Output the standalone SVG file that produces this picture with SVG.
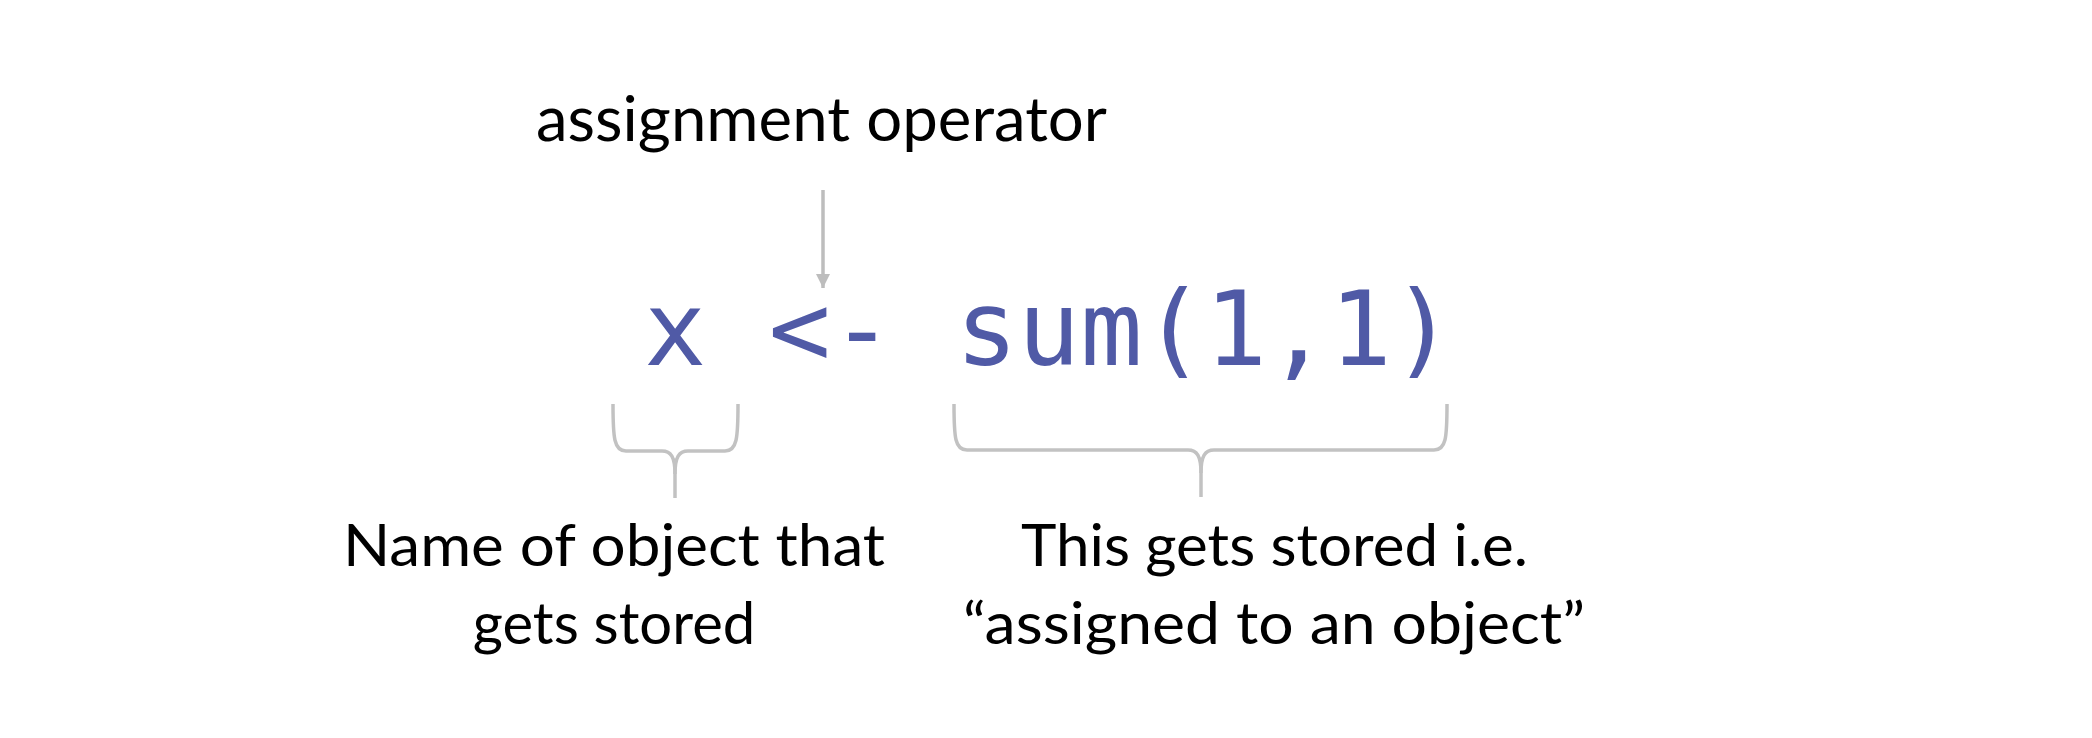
<svg xmlns="http://www.w3.org/2000/svg" width="2092" height="738" viewBox="0 0 2092 738">
  <style>
    .lbl { font-family: Lato, "Liberation Sans", sans-serif; fill: #000000; }
    .code { font-family: "DejaVu Sans Mono", "Liberation Mono", monospace; fill: #505AA6; font-size: 103.5px; }
    .brace { fill: none; stroke: #C2C2C2; stroke-width: 3.5; stroke-linecap: butt; stroke-linejoin: round; }
    .conn { fill: none; stroke: #BDBDBD; stroke-width: 3.5; }
  </style>
  <defs>
    <marker id="ah" markerUnits="userSpaceOnUse" markerWidth="16" markerHeight="14" refX="14" refY="7" orient="auto">
      <path d="M0,0 L14,7 L0,14 Z" fill="#BDBDBD"/>
    </marker>
  </defs>
  <rect width="2092" height="738" fill="#FFFFFF"/>

  <g id="label-operator">
    <text class="lbl" x="536" y="141" font-size="62" textLength="571" lengthAdjust="spacingAndGlyphs">assignment operator</text>
  </g>

  <g id="code">
    <text class="code" x="644" y="365" xml:space="preserve">x &lt;- sum(1,1)</text>
  </g>

  <g id="brace-name">
    <path class="brace" d="M613,404 C613,438 614,451 626,451 L662,451 C671,451 675,457 675,474 L675,498"/>
    <path class="brace" d="M738,404 C738,438 737,451 725,451 L688,451 C679,451 675,457 675,474"/>
  </g>

  <g id="brace-value">
    <path class="brace" d="M954,404 C954,438 955,450 967,450 L1188,450 C1197,450 1201,456 1201,473 L1201,497"/>
    <path class="brace" d="M1447,404 C1447,438 1446,450 1434,450 L1214,450 C1205,450 1201,456 1201,473"/>
  </g>

  <g id="label-name">
    <text class="lbl" x="343" y="566" font-size="58" textLength="542" lengthAdjust="spacingAndGlyphs">Name of object that</text>
    <text class="lbl" x="614" y="644" font-size="58" text-anchor="middle">gets stored</text>
  </g>

  <g id="label-value">
    <text class="lbl" x="1021" y="566" font-size="58" textLength="507" lengthAdjust="spacingAndGlyphs">This gets stored i.e.</text>
    <text class="lbl" x="963" y="644" font-size="58" textLength="622" lengthAdjust="spacingAndGlyphs">“assigned to an object”</text>
  </g>

  <g id="connectors">
    <line class="conn" x1="823" y1="190" x2="823" y2="288" marker-end="url(#ah)"/>
  </g>
</svg>
